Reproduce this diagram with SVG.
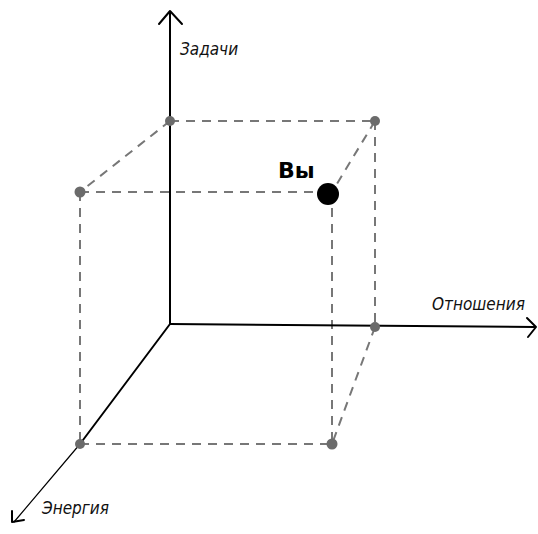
<svg xmlns="http://www.w3.org/2000/svg" width="538" height="534" viewBox="0 0 538 534">
<style>
.axis{stroke:#000;stroke-width:2;fill:none;stroke-linecap:round;stroke-linejoin:round}
.dash{stroke:#777;stroke-width:2;fill:none;stroke-dasharray:9 7}
.pt{fill:#6b6b6b}
.lbl{font-family:"DejaVu Sans Condensed","Liberation Sans",sans-serif;font-size:17px;fill:#111;font-style:italic}
</style>
<rect width="538" height="534" fill="#fff"/>
<g id="connectors">
<line class="dash" x1="170" y1="121" x2="375" y2="121"/>
<line class="dash" x1="170" y1="121" x2="80" y2="192"/>
<line class="dash" x1="375" y1="121" x2="332" y2="192"/>
<line class="dash" x1="80" y1="192" x2="332" y2="192"/>
<line class="dash" x1="375" y1="121" x2="375" y2="327"/>
<line class="dash" x1="80" y1="192" x2="80" y2="444"/>
<line class="dash" x1="332" y1="192" x2="332" y2="444"/>
<line class="dash" x1="80" y1="444" x2="332" y2="444"/>
<line class="dash" x1="375" y1="327" x2="332" y2="444"/>
</g>
<g id="axis-tasks">
<line class="axis" x1="170" y1="324" x2="170" y2="12"/>
<polyline class="axis" points="159,24 170,11 182,24"/>
<text class="lbl" x="180" y="55">Задачи</text>
</g>
<g id="axis-relations">
<line class="axis" x1="170" y1="324" x2="535" y2="327"/>
<polyline class="axis" points="527,318 536,327 528,337"/>
<text class="lbl" x="432" y="310">Отношения</text>
</g>
<g id="axis-energy">
<line class="axis" x1="170" y1="324" x2="80" y2="444"/>
<line class="axis" style="stroke-width:1.2" x1="80" y1="444" x2="14" y2="522"/>
<polyline class="axis" points="12,511 12,522 24,520"/>
<text class="lbl" x="42" y="514">Энергия</text>
</g>
<g id="p-top-back-left"><circle class="pt" cx="170" cy="121" r="5"/></g>
<g id="p-top-back-right"><circle class="pt" cx="375" cy="121" r="5"/></g>
<g id="p-top-front-left"><circle class="pt" cx="80" cy="192" r="5.5"/></g>
<g id="p-right"><circle class="pt" cx="375" cy="327" r="5"/></g>
<g id="p-bottom-left"><circle class="pt" cx="80" cy="444" r="5"/></g>
<g id="p-bottom-right"><circle class="pt" cx="332" cy="444" r="5.5"/></g>
<g id="you">
<circle cx="328" cy="194" r="11" fill="#000"/>
<text x="278" y="178" style="font-family:'DejaVu Sans','Liberation Sans',sans-serif;font-weight:900;font-size:22px;fill:#000">Вы</text>
</g>
</svg>
